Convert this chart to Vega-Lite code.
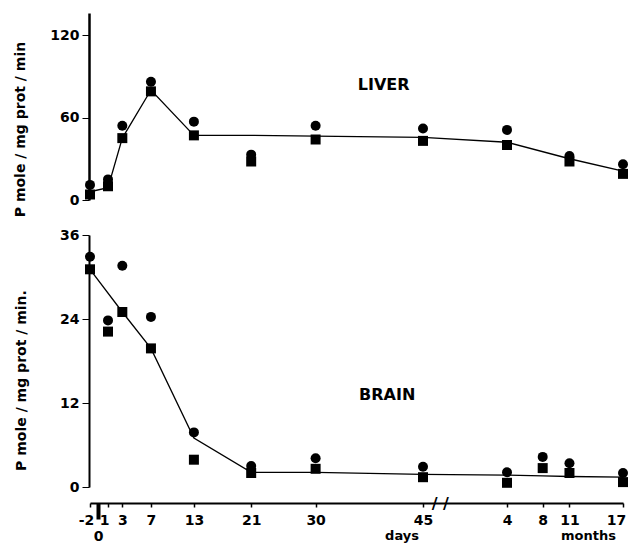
{
  "$schema": "https://vega.github.io/schema/vega-lite/v6.json",
  "padding": {"top": 13, "left": 13, "right": 2, "bottom": 0},
  "background": "white",
  "spacing": 35,
  "bounds": "flush",
  "config": {
    "view": {"stroke": null},
    "font": "DejaVu Sans",
    "axis": {
      "grid": false,
      "domainColor": "black",
      "domainWidth": 2,
      "tickColor": "black",
      "labelColor": "black",
      "titleColor": "black",
      "labelFont": "DejaVu Sans",
      "labelFontWeight": "bold",
      "labelFontSize": 14,
      "titleFont": "DejaVu Sans",
      "titleFontWeight": "bold",
      "titleFontSize": 14,
      "labelOverlap": false
    },
    "axisX": {"labelOverlap": false, "labelFlush": false}
  },
  "datasets": {
    "obs": [
      {"organ": "LIVER", "days": -2, "group": "A", "value": 11},
      {"organ": "LIVER", "days": -2, "group": "B", "value": 4},
      {"organ": "LIVER", "days": 1, "group": "A", "value": 15},
      {"organ": "LIVER", "days": 1, "group": "B", "value": 10},
      {"organ": "LIVER", "days": 3, "group": "A", "value": 54},
      {"organ": "LIVER", "days": 3, "group": "B", "value": 45},
      {"organ": "LIVER", "days": 7, "group": "A", "value": 86},
      {"organ": "LIVER", "days": 7, "group": "B", "value": 79},
      {"organ": "LIVER", "days": 13, "group": "A", "value": 57},
      {"organ": "LIVER", "days": 13, "group": "B", "value": 47},
      {"organ": "LIVER", "days": 21, "group": "A", "value": 33},
      {"organ": "LIVER", "days": 21, "group": "B", "value": 28},
      {"organ": "LIVER", "days": 30, "group": "A", "value": 54},
      {"organ": "LIVER", "days": 30, "group": "B", "value": 44},
      {"organ": "LIVER", "days": 45, "group": "A", "value": 52},
      {"organ": "LIVER", "days": 45, "group": "B", "value": 43},
      {"organ": "LIVER", "days": 120, "group": "A", "value": 51},
      {"organ": "LIVER", "days": 120, "group": "B", "value": 40},
      {"organ": "LIVER", "days": 330, "group": "A", "value": 32},
      {"organ": "LIVER", "days": 330, "group": "B", "value": 28},
      {"organ": "LIVER", "days": 510, "group": "A", "value": 26},
      {"organ": "LIVER", "days": 510, "group": "B", "value": 19},
      {"organ": "BRAIN", "days": -2, "group": "A", "value": 32.9},
      {"organ": "BRAIN", "days": -2, "group": "B", "value": 31.1},
      {"organ": "BRAIN", "days": 1, "group": "A", "value": 23.8},
      {"organ": "BRAIN", "days": 1, "group": "B", "value": 22.2},
      {"organ": "BRAIN", "days": 3, "group": "A", "value": 31.6},
      {"organ": "BRAIN", "days": 3, "group": "B", "value": 25.0},
      {"organ": "BRAIN", "days": 7, "group": "A", "value": 24.3},
      {"organ": "BRAIN", "days": 7, "group": "B", "value": 19.8},
      {"organ": "BRAIN", "days": 13, "group": "A", "value": 7.8},
      {"organ": "BRAIN", "days": 13, "group": "B", "value": 3.9},
      {"organ": "BRAIN", "days": 21, "group": "A", "value": 3.0},
      {"organ": "BRAIN", "days": 21, "group": "B", "value": 2.0},
      {"organ": "BRAIN", "days": 30, "group": "A", "value": 4.1},
      {"organ": "BRAIN", "days": 30, "group": "B", "value": 2.6},
      {"organ": "BRAIN", "days": 45, "group": "A", "value": 2.9},
      {"organ": "BRAIN", "days": 45, "group": "B", "value": 1.4},
      {"organ": "BRAIN", "days": 120, "group": "A", "value": 2.1},
      {"organ": "BRAIN", "days": 120, "group": "B", "value": 0.6},
      {"organ": "BRAIN", "days": 240, "group": "A", "value": 4.3},
      {"organ": "BRAIN", "days": 240, "group": "B", "value": 2.7},
      {"organ": "BRAIN", "days": 330, "group": "A", "value": 3.4},
      {"organ": "BRAIN", "days": 330, "group": "B", "value": 2.0},
      {"organ": "BRAIN", "days": 510, "group": "A", "value": 2.0},
      {"organ": "BRAIN", "days": 510, "group": "B", "value": 0.7}
    ],
    "fit": [
      {"organ": "LIVER", "days": -2, "value": 6},
      {"organ": "LIVER", "days": 1, "value": 9},
      {"organ": "LIVER", "days": 3, "value": 45},
      {"organ": "LIVER", "days": 7, "value": 80},
      {"organ": "LIVER", "days": 13, "value": 47},
      {"organ": "LIVER", "days": 21, "value": 47},
      {"organ": "LIVER", "days": 30, "value": 46.5},
      {"organ": "LIVER", "days": 45, "value": 45.5},
      {"organ": "LIVER", "days": 120, "value": 42},
      {"organ": "LIVER", "days": 330, "value": 30},
      {"organ": "LIVER", "days": 510, "value": 21},
      {"organ": "BRAIN", "days": -2, "value": 31.1},
      {"organ": "BRAIN", "days": 3, "value": 25},
      {"organ": "BRAIN", "days": 7, "value": 19.8},
      {"organ": "BRAIN", "days": 13, "value": 7},
      {"organ": "BRAIN", "days": 21, "value": 2.1},
      {"organ": "BRAIN", "days": 30, "value": 2.1},
      {"organ": "BRAIN", "days": 45, "value": 1.8},
      {"organ": "BRAIN", "days": 120, "value": 1.7},
      {"organ": "BRAIN", "days": 240, "value": 1.6},
      {"organ": "BRAIN", "days": 330, "value": 1.5},
      {"organ": "BRAIN", "days": 510, "value": 1.4}
    ],
    "labels": [
      {"organ": "LIVER", "label": "LIVER", "days": 39.5, "value": 84},
      {"organ": "BRAIN", "label": "BRAIN", "days": 40, "value": 13.1}
    ]
  },
  "vconcat": [
    {
      "width": 536,
      "height": 187,
      "encoding": {
        "x": {"field": "days", "type": "quantitative", "scale": {"domain": [-2, 0, 1, 45, 120, 510], "range": [1, 9, 19, 334, 418, 534], "nice": false, "zero": false}, "axis": null},
        "y": {"field": "value", "type": "quantitative", "scale": {"domain": [0, 136], "nice": false},
          "axis": {"values": [0, 60, 120], "title": "P mole / mg prot / min", "tickSize": 7, "labelPadding": 3, "titlePadding": 22, "domainWidth": 2.5, "titleY": 116}}
      },
      "layer": [
        {
          "data": {"name": "fit"},
          "transform": [{"filter": "datum.organ == 'LIVER'"}],
          "mark": {"type": "line", "color": "black", "strokeWidth": 1.3}
        },
        {
          "data": {"name": "obs"},
          "transform": [{"filter": "datum.organ == 'LIVER'"}],
          "mark": {"type": "point", "filled": true, "color": "black", "size": 100, "opacity": 1},
          "encoding": {
            "shape": {"field": "group", "type": "nominal", "scale": {"domain": ["A", "B"], "range": ["circle", "square"]}, "legend": null}
          }
        },
        {
          "data": {"name": "labels"},
          "transform": [{"filter": "datum.organ == 'LIVER'"}],
          "mark": {"type": "text", "font": "DejaVu Sans", "fontSize": 16, "fontWeight": "bold", "color": "black"},
          "encoding": {"text": {"field": "label"}}
        }
      ]
    },
    {
      "width": 536,
      "height": 252,
      "encoding": {
        "x": {"field": "days", "type": "quantitative", "scale": {"domain": [-2, 0, 1, 45, 120, 510], "range": [1, 9, 19, 334, 418, 534], "nice": false, "zero": false},
          "axis": {
            "title": null,
            "values": [-2, 0, 1, 3, 7, 13, 21, 30, 45, 120, 240, 330, 510, 42, 60, 392],
            "labelExpr": "datum.value == 42 ? 'days' : datum.value == 392 ? 'months' : datum.value == 60 ? '/ /' : datum.value > 100 ? '' + (datum.value / 30) : '' + datum.value",
            "offset": 16,
            "tickSize": {"condition": {"test": "datum.value == 0", "value": 16}, "value": 4},
            "labelOverlap": false,
            "labelFlush": false,
            "labelBound": false,
            "domainWidth": 2,
            "tickOpacity": {"condition": {"test": "datum.value == 42 || datum.value == 60 || datum.value == 392", "value": 0}, "value": 1},
            "tickWidth": {"condition": {"test": "datum.value == 0", "value": 4}, "value": 1.5},
            "labelPadding": {"condition": [{"test": "datum.value == 0", "value": 10}, {"test": "datum.value == 42 || datum.value == 392", "value": 22}, {"test": "datum.value == 60", "value": -4}], "value": 6},
            "labelBaseline": {"condition": {"test": "datum.value == 60", "value": "middle"}, "value": "top"},
            "labelFontSize": {"condition": [{"test": "datum.value == 42 || datum.value == 392", "value": 13}, {"test": "datum.value == 60", "value": 16}], "value": 14},
            "labelOffset": {"condition": [{"test": "datum.value == -2 || datum.value == 1", "value": -4}, {"test": "datum.value == 510", "value": -7}], "value": 0}
          }},
        "y": {"field": "value", "type": "quantitative", "scale": {"domain": [0, 36], "nice": false},
          "axis": {"values": [0, 12, 24, 36], "title": "P mole / mg prot / min.", "tickSize": 7, "labelPadding": 3, "titlePadding": 31, "domainWidth": 2, "titleY": 145}}
      },
      "layer": [
        {
          "data": {"name": "fit"},
          "transform": [{"filter": "datum.organ == 'BRAIN'"}],
          "mark": {"type": "line", "color": "black", "strokeWidth": 1.3}
        },
        {
          "data": {"name": "obs"},
          "transform": [{"filter": "datum.organ == 'BRAIN'"}],
          "mark": {"type": "point", "filled": true, "color": "black", "size": 100, "opacity": 1},
          "encoding": {
            "shape": {"field": "group", "type": "nominal", "scale": {"domain": ["A", "B"], "range": ["circle", "square"]}, "legend": null}
          }
        },
        {
          "data": {"name": "labels"},
          "transform": [{"filter": "datum.organ == 'BRAIN'"}],
          "mark": {"type": "text", "font": "DejaVu Sans", "fontSize": 16, "fontWeight": "bold", "color": "black"},
          "encoding": {"text": {"field": "label"}}
        }
      ]
    }
  ]
}
